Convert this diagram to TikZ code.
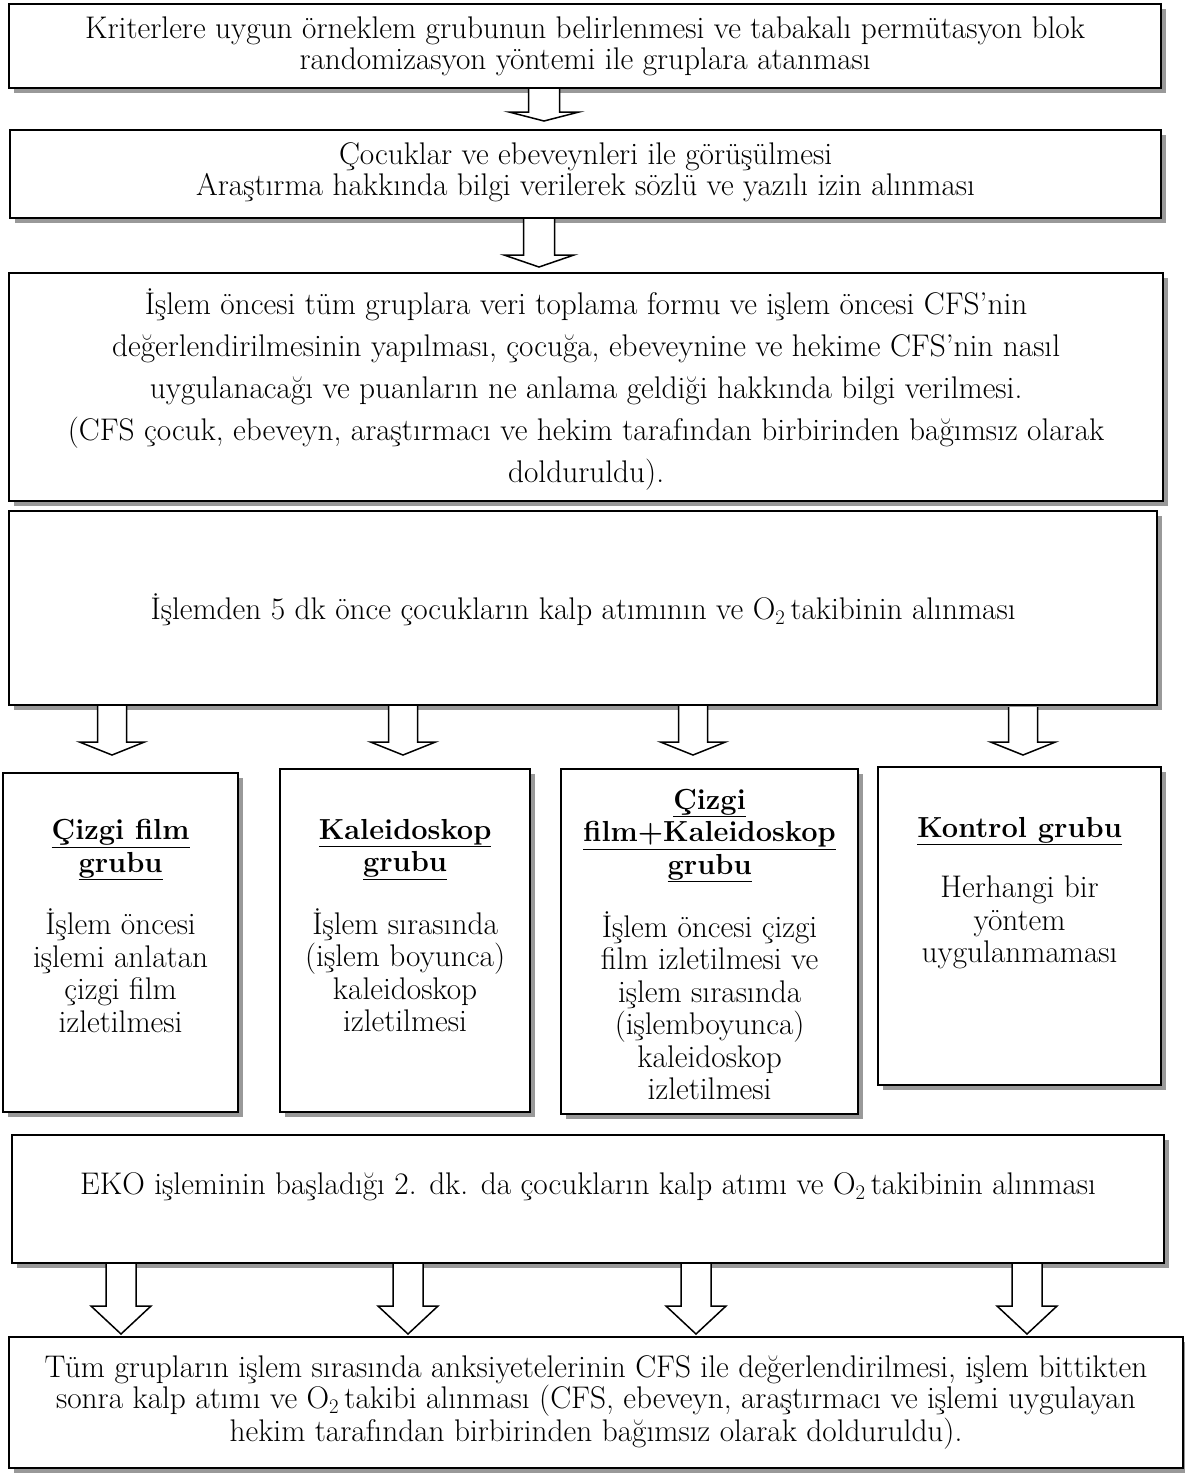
\documentclass[tikz,border=0pt]{standalone}
\usepackage{fontspec}
\usetikzlibrary{shadows,calc}
\newcommand\fsz{\fontsize{31.3}{31}\selectfont}
\newcommand\fszd{\fontsize{31.3}{42}\selectfont}
\newcommand\fszs{\fontsize{31.3}{32.5}\selectfont}
\newcommand\hd[1]{{\fontsize{29}{32}\selectfont\underline{\textbf{#1}}}}
\tikzset{
  box/.style={draw, line width=2.2pt, fill=white, inner sep=0pt, anchor=north west,
    drop shadow={shadow xshift=4.5pt, shadow yshift=-4.5pt, fill=black!40, opacity=1}},
  txt/.style={align=center, inner sep=0pt, font=\fsz},
  txtd/.style={align=center, inner sep=0pt, font=\fszd},
  txts/.style={align=center, inner sep=0pt, font=\fszs, anchor=north},
  barrowst/.style={draw, line width=1.5pt, fill=white, line join=miter},
}
% block arrow: cx, top, head start, tip, shaft half width, head half width
\newcommand\barrow[6]{%
  \filldraw[barrowst] ({#1-#5},#2) -- ({#1-#5},#3) -- ({#1-#6},#3) -- (#1,#4)
    -- ({#1+#6},#3) -- ({#1+#5},#3) -- ({#1+#5},#2);}
\begin{document}
\begin{tikzpicture}[x=1pt,y=-1pt]
\fill[white] (0,0) rectangle (1185,1473);
\useasboundingbox (0,0) rectangle (1185,1473);

% top boxes
\node[box, minimum width=1152pt, minimum height=84pt] (b1) at (8,3) {};
\node[txt] (t1) at (b1.center) {Kriterlere uygun örneklem grubunun belirlenmesi ve tabakalı permütasyon blok\\randomizasyon yöntemi ile gruplara atanması};

\node[box, minimum width=1151pt, minimum height=88pt] (b2) at (9,129) {};
\node[txt] (t2) at ($(b2.center)+(0,-2)$) {Çocuklar ve ebeveynleri ile görüşülmesi\\Araştırma hakkında bilgi verilerek sözlü ve yazılı izin alınması};

\node[box, minimum width=1154pt, minimum height=228pt] (b3) at (8,272) {};
\node[txtd] (t3) at ($(b3.center)+(0,2)$) {İşlem öncesi tüm gruplara veri toplama formu ve işlem öncesi CFS’nin\\değerlendirilmesinin yapılması, çocuğa, ebeveynine ve hekime CFS’nin nasıl\\uygulanacağı ve puanların ne anlama geldiği hakkında bilgi verilmesi.\\(CFS çocuk, ebeveyn, araştırmacı ve hekim tarafından birbirinden bağımsız olarak\\dolduruldu).};

\node[box, minimum width=1148pt, minimum height=194pt] (b4) at (8,510) {};
\node[txt] (t4) at ($(b4.center)+(0,2)$) {İşlemden 5 dk önce çocukların kalp atımının ve O$_2$\,takibinin alınması};

% group boxes
\node[box, minimum width=235pt, minimum height=339pt] (bA) at (2,772) {};
\node[box, minimum width=250pt, minimum height=343pt] (bB) at (279,768) {};
\node[box, minimum width=297pt, minimum height=345pt] (bC) at (560,768) {};
\node[box, minimum width=283pt, minimum height=318pt] (bD) at (877,766) {};

\node[txts] (tA) at ($(bA.north)+(0,47)$) {\hd{Çizgi film}\\\hd{grubu}\\[28pt]İşlem öncesi\\işlemi anlatan\\çizgi film\\izletilmesi};
\node[txts] (tB) at ($(bB.north)+(0,51)$) {\hd{Kaleidoskop}\\\hd{grubu}\\[28pt]İşlem sırasında\\(işlem boyunca)\\kaleidoskop\\izletilmesi};
\node[txts] (tC) at ($(bC.north)+(0,21)$) {\hd{Çizgi}\\\hd{film+Kaleidoskop}\\\hd{grubu}\\[28pt]İşlem öncesi çizgi\\film izletilmesi ve\\işlem sırasında\\(işlemboyunca)\\kaleidoskop\\izletilmesi};
\node[txts] (tD) at ($(bD.north)+(0,51)$) {\hd{Kontrol grubu}\\[28pt]Herhangi bir\\yöntem\\uygulanmaması};

% lower boxes
\node[box, minimum width=1152pt, minimum height=128pt] (b5) at (11,1134) {};
\node[txt] (t5) at ($(b5.center)+(0,-12)$) {EKO işleminin başladığı 2. dk. da çocukların kalp atımı ve O$_2$\,takibinin alınması};

\node[box, minimum width=1174pt, minimum height=131pt, line width=2pt] (b6) at (8,1336) {};
\node[txt] (t6) at (b6.center) {Tüm grupların işlem sırasında anksiyetelerinin CFS ile değerlendirilmesi, işlem bittikten\\sonra kalp atımı ve O$_2$\,takibi alınması (CFS, ebeveyn, araştırmacı ve işlemi uygulayan\\hekim tarafından birbirinden bağımsız olarak dolduruldu).};

% block arrows
\barrow{544}{89}{112}{121}{15.5}{35}
\barrow{539}{219}{255}{267}{15.5}{35}
\barrow{112}{706}{742}{755}{14.5}{32.5}
\barrow{403}{706}{742}{755}{14.5}{32.5}
\barrow{693}{706}{742}{755}{14.5}{32.5}
\barrow{1023}{707}{742}{755}{14.5}{32.5}
\barrow{121}{1264}{1306}{1334}{15}{30}
\barrow{408}{1264}{1306}{1334}{15}{30}
\barrow{696}{1264}{1306}{1334}{15}{30}
\barrow{1027}{1264}{1306}{1334}{15}{30}
\end{tikzpicture}
\end{document}
